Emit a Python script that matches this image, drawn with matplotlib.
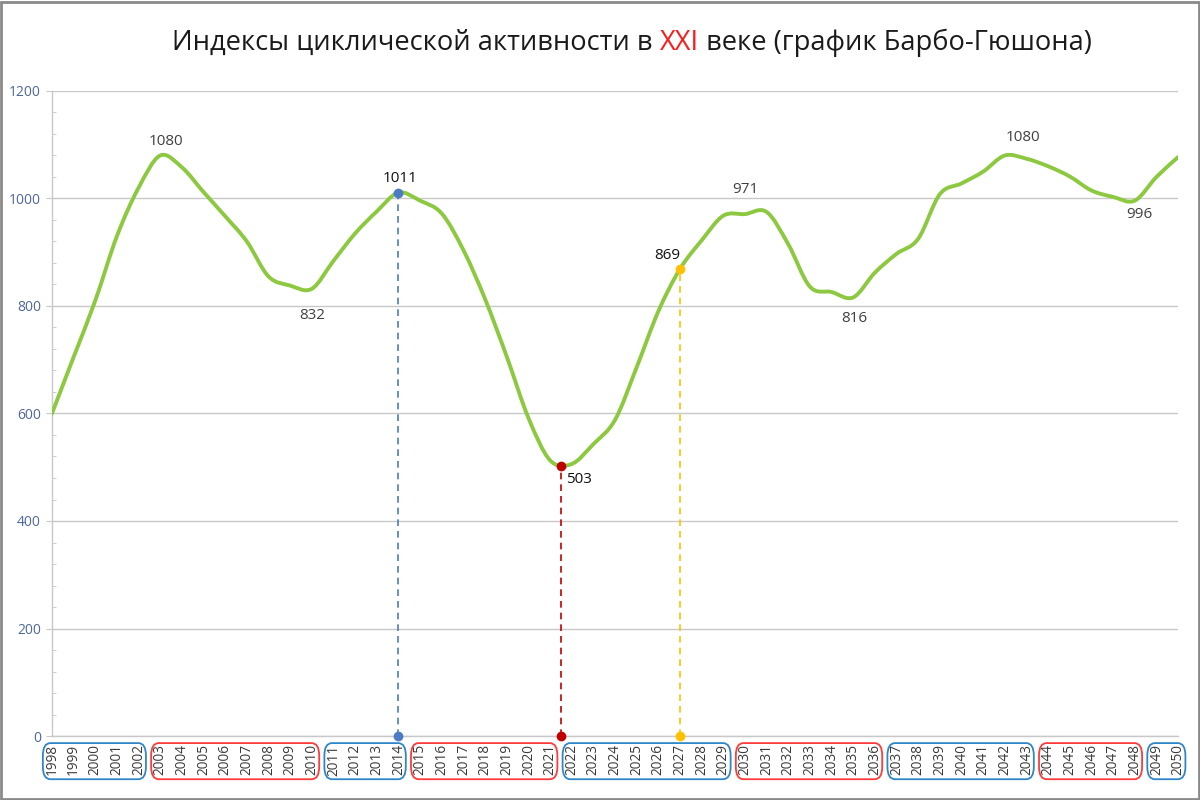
import matplotlib
matplotlib.use("Agg")
import matplotlib.pyplot as plt
from matplotlib.path import Path
from matplotlib.patches import PathPatch, FancyBboxPatch, Rectangle
from matplotlib.ticker import MultipleLocator

plt.rcParams['font.family'] = ['Open Sans', 'DejaVu Sans']

# данные
years = list(range(1998, 2051))
index_values = [600, 705, 810, 930, 1020, 1080, 1058, 1012, 967, 920,
                855, 838, 832, 884, 935, 976, 1011, 996, 972, 904,
                813, 706, 592, 513, 506, 543, 588, 686, 790, 869,
                922, 968, 971, 975, 915, 836, 826, 816, 862, 897,
                925, 1008, 1028, 1050, 1080, 1074, 1060, 1041, 1015, 1003,
                996, 1040, 1077]

# отмеченные точки (вертикальные пунктиры)
mark_years = [2014, 2021.5, 2027]
mark_values = [1011, 503, 869]
mark_colors = ['#4a7bc4', '#c00000', '#ffc000']

# подписи значений: год, текст, смещение (pt), цвет
label_years = [2003, 2010, 2014, 2021.5, 2027, 2030, 2035, 2042, 2048]
label_texts = ['1080', '832', '1011', '503', '869', '971', '816', '1080', '996']
label_dx = [4, 0, 1, 13, -9, 0, 1, 13, 3]
label_dy = [10, -19, 10, -10, 10, 18, -15, 13, -10]
label_colors = ['#404040', '#404040', '#111111', '#111111', '#111111',
                '#404040', '#404040', '#404040', '#404040']

# группы годов в рамках
group_starts = [1998, 2003, 2011, 2015, 2022, 2030, 2037, 2044, 2049]
group_ends = [2002, 2010, 2014, 2021, 2029, 2036, 2043, 2048, 2050]
group_colors = ['#2f86c8', '#ff3b3b', '#2f86c8', '#ff3b3b', '#2f86c8',
                '#ff3b3b', '#2f86c8', '#ff3b3b', '#2f86c8']


def smooth_path(xs, ys):
    # сглаженная линия как в Excel: безье с контрольными точками Catmull-Rom
    pts = list(zip(xs, ys))
    verts = [pts[0]]
    codes = [Path.MOVETO]
    n = len(pts)
    for i in range(n - 1):
        p0 = pts[i - 1] if i > 0 else pts[i]
        p1 = pts[i]
        p2 = pts[i + 1]
        p3 = pts[i + 2] if i + 2 < n else pts[i + 1]
        c1 = (p1[0] + (p2[0] - p0[0]) / 6, p1[1] + (p2[1] - p0[1]) / 6)
        c2 = (p2[0] - (p3[0] - p1[0]) / 6, p2[1] - (p3[1] - p1[1]) / 6)
        verts += [c1, c2, p2]
        codes += [Path.CURVE4] * 3
    return Path(verts, codes)


fig = plt.figure(figsize=(12, 8), dpi=100)
ax = fig.add_axes([0.0433, 0.08, 0.9384, 0.80625])

ax.set_xlim(1998, 2050)
ax.set_ylim(0, 1200)

ax.yaxis.set_major_locator(MultipleLocator(200))
ax.yaxis.set_minor_locator(MultipleLocator(40))
ax.grid(axis='y', color='#c8c8c8', lw=1)
ax.set_axisbelow(True)
for s in ['top', 'right']:
    ax.spines[s].set_visible(False)
for s in ['left', 'bottom']:
    ax.spines[s].set_color('#c8c8c8')
    ax.spines[s].set_linewidth(1)

ax.tick_params(axis='y', which='major', direction='out', length=4, color='#c8c8c8',
               labelsize=10, labelcolor='#50679a', pad=4)
ax.tick_params(axis='y', which='minor', direction='in', length=3, color='#c8c8c8')
ax.set_xticks(years)
ax.set_xticklabels([str(y) for y in years], rotation=90, fontsize=9.8, color='#3a3a3a')
ax.tick_params(axis='x', length=0, pad=6)

# основная кривая
ax.add_patch(PathPatch(smooth_path(years, index_values), facecolor='none',
                       edgecolor='#8cc940', lw=2.8, capstyle='round', zorder=3))

# пунктиры и маркеры
for x, v, c in zip(mark_years, mark_values, mark_colors):
    ax.plot([x, x], [0, v], color=c, lw=1.2, ls=(0, (4, 3)), zorder=2)
    ax.plot([x, x], [0, v], 'o', color=c, ms=6, clip_on=False, zorder=4)

# подписи
for x, t, dx, dy, c in zip(label_years, label_texts, label_dx, label_dy, label_colors):
    v = int(t)
    ax.annotate(t, xy=(x, v), xytext=(dx, dy), textcoords='offset points',
                ha='center', va='center', fontsize=11, color=c, zorder=5)

# рамки групп годов под осью
trans = ax.get_xaxis_transform()
for a, b, c in zip(group_starts, group_ends, group_colors):
    box = FancyBboxPatch((a - 0.42, -0.067), (b - a) + 0.76, 0.056,
                         boxstyle='round,pad=0,rounding_size=0.35',
                         transform=trans, facecolor='none', edgecolor=c,
                         lw=1.3, clip_on=False, mutation_aspect=0.055)
    ax.add_patch(box)

# заголовок с красным "XXI"
t1 = fig.text(0.1433, 0.938, 'Индексы циклической активности в ', fontsize=19.6,
              color='#1a1a1a', va='baseline', ha='left')
t2 = ax.annotate('XXI', xy=(1, 0), xycoords=t1, va='bottom', ha='left',
                 fontsize=19.6, color='#ff1a1a')
t3 = ax.annotate(' веке (график Барбо-Гюшона)', xy=(1, 0), xycoords=t2,
                 va='bottom', ha='left', fontsize=19.6, color='#1a1a1a')

# рамка вокруг рисунка
fig.patches.append(Rectangle((0.001, 0.001), 0.998, 0.997, transform=fig.transFigure,
                             fill=False, edgecolor='#8a8a8a', lw=2))

fig.savefig('out.png', dpi=100)
